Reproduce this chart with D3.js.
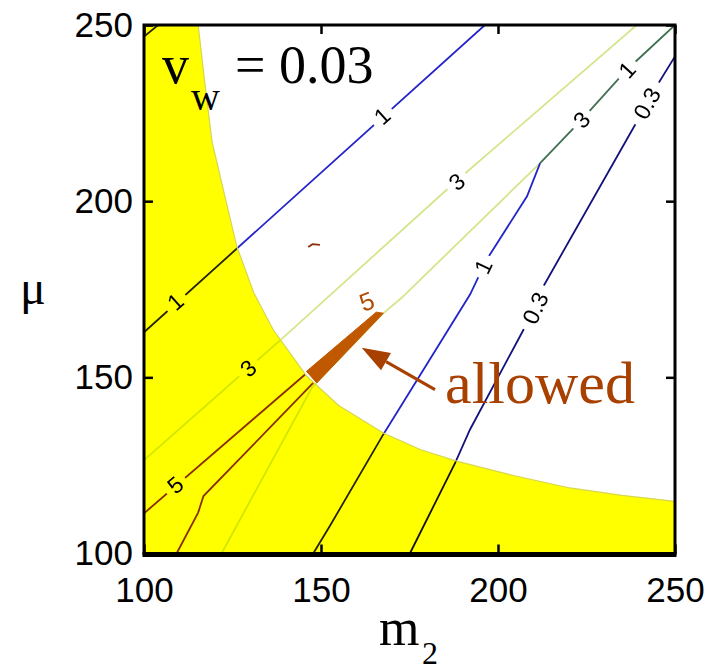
<!DOCTYPE html>
<html>
<head>
<meta charset="utf-8">
<script src="https://cdn.jsdelivr.net/npm/d3@7"></script>
<style>
  body { margin: 0; background: #fff; }
  text { font-family: 'Liberation Sans', Arial, sans-serif; }
  .serif { font-family: 'Liberation Serif', 'Times New Roman', serif; }
</style>
</head>
<body>
<svg id="chart" width="708" height="670"></svg>
<script>
const ticks = [100, 150, 200, 250]

// lower edge of the allowed region (m2, mu)
const boundary = [
  [115.3, 250], [117, 235], [119.2, 217], [122, 205], [126.2, 187.2], [131, 174],
  [136.5, 163.5], [146, 150.3], [155, 142], [167.6, 134.2], [178, 129.5],
  [188.3, 126.2], [205, 122], [220.3, 118.6], [235, 116.5], [250, 114.8]
]

// contour polylines, one entry per drawn piece
const contourLevels = ['1', '1', '3', '3', '1', '1', '0.3', '5', '5', '5']
const contourColors = ['#2424c8', '#2424c8', '#d2e68c', '#d2e68c', '#2424c8', '#3e7050', '#12127e', '#8a2e08', '#8a2e08', '#8a2e08']
const contourPoints = [
  [[100, 162.8], [196.3, 250]],
  [[100, 246.7], [104, 250]],
  [[100, 126.5], [139, 161], [188, 205.5], [239.2, 250]],
  [[121.9, 100], [147.5, 147.2], [167.5, 168.1], [172.7, 172.5], [211.9, 210.8]],
  [[147.8, 100], [152.5, 107.8], [167.6, 133.8], [192.1, 173.5], [196.8, 183.4], [208.2, 201.4], [211.9, 210.8]],
  [[211.9, 210.8], [223.6, 223.1], [236.4, 237.3], [250, 250]],
  [[175.1, 100], [187.9, 125.7], [192.1, 135.2], [207.2, 163.5], [212.8, 175.8], [240.1, 224.1], [244.8, 232.6], [250, 241.1]],
  [[100, 111.4], [145.5, 150.8]],
  [[109.2, 100], [115.3, 111.6], [116.8, 116.3], [147.8, 148.4]],
  [[146.4, 187.0], [147.6, 187.8], [149.7, 187.6]]
]

// inline contour labels
const labelTexts = ['1', '1', '3', '3', '1', '3', '1', '0.3', '0.3', '5']
const labelAt = [
  [108.8, 171.5], [167.2, 224.2], [129.4, 152.6], [188.3, 205.6], [195.8, 181.5],
  [223.6, 223.1], [236.4, 237.3], [210.5, 169.7], [242, 227.8], [108.8, 119.5]
]

// allowed region (value > 5 outside the excluded band)
const allowed = [[145.9, 151.7], [165.6, 168.5], [167.6, 168.2], [148.8, 148.4]]
const arrowFrom = [182.2, 146.5]
const arrowTo = [161.5, 158.4]

const svg = d3.select('#chart')
const x = d3.scaleLinear().domain([100, 250]).range([144, 675])
const y = d3.scaleLinear().domain([100, 250]).range([553.5, 25])
const line = d3.line().x(d => x(d[0])).y(d => y(d[1]))

const defs = svg.append('defs')
defs.append('clipPath').attr('id', 'plot')
  .append('rect').attr('x', x(100)).attr('y', y(250))
  .attr('width', x(250) - x(100)).attr('height', y(100) - y(250))

// find local direction of the nearest contour for each label
function labelAngle (p) {
  const px = [x(p[0]), y(p[1])]
  let best = Infinity
  let ang = 0
  contourPoints.forEach(pts => {
    for (let i = 0; i < pts.length - 1; i++) {
      const a = [x(pts[i][0]), y(pts[i][1])]
      const b = [x(pts[i + 1][0]), y(pts[i + 1][1])]
      const dx = b[0] - a[0]
      const dy = b[1] - a[1]
      const t = Math.max(0, Math.min(1, ((px[0] - a[0]) * dx + (px[1] - a[1]) * dy) / (dx * dx + dy * dy)))
      const d = Math.hypot(a[0] + t * dx - px[0], a[1] + t * dy - px[1])
      if (d < best) {
        best = d
        ang = Math.atan2(dy, dx) * 180 / Math.PI
      }
    }
  })
  if (ang > 90) ang -= 180
  if (ang < -90) ang += 180
  return ang
}

const labels = labelTexts.map((t, i) => ({ text: t, at: labelAt[i], angle: labelAngle(labelAt[i]) }))

// mask that cuts gaps into the lines where labels sit
const mask = defs.append('mask').attr('id', 'gaps').attr('maskUnits', 'userSpaceOnUse')
  .attr('x', 0).attr('y', 0).attr('width', 708).attr('height', 670)
mask.append('rect').attr('width', 708).attr('height', 670).attr('fill', '#fff')
labels.forEach(l => {
  const w = l.text.length * 12 + 12
  mask.append('rect')
    .attr('x', -w / 2).attr('y', -10).attr('width', w).attr('height', 20)
    .attr('fill', '#000')
    .attr('transform', `translate(${x(l.at[0])},${y(l.at[1])}) rotate(${l.angle})`)
})

const plot = svg.append('g').attr('clip-path', 'url(#plot)')

plot.append('g').attr('mask', 'url(#gaps)')
  .selectAll('path')
  .data(contourPoints)
  .enter()
  .append('path')
  .attr('d', line)
  .attr('fill', 'none')
  .attr('stroke', (_, i) => contourColors[i])
  .attr('stroke-width', 1.8)

// excluded region, multiplied over the lines so they darken inside it
const excluded = [[100, 100], [100, 250]].concat(boundary, [[250, 100]])
plot.append('path')
  .attr('d', line(excluded) + 'Z')
  .attr('fill', '#ffff00')
  .style('mix-blend-mode', 'multiply')

plot.append('path')
  .attr('d', line(boundary))
  .attr('fill', 'none')
  .attr('stroke', '#d6d650')
  .attr('stroke-width', 1.2)

plot.append('path')
  .attr('d', line(allowed) + 'Z')
  .attr('fill', '#c05800')
  .attr('stroke', '#c05800')
  .attr('stroke-width', 1)
  .attr('stroke-linejoin', 'round')

plot.selectAll('.clabel')
  .data(labels)
  .enter()
  .append('text')
  .attr('class', 'clabel')
  .attr('font-size', 23)
  .attr('text-anchor', 'middle')
  .attr('dy', '0.36em')
  .attr('transform', d => `translate(${x(d.at[0])},${y(d.at[1])}) rotate(${d.angle})`)
  .text(d => d.text)

plot.append('text')
  .attr('font-size', 25)
  .attr('fill', '#b04a00')
  .attr('text-anchor', 'middle')
  .attr('dy', '0.36em')
  .attr('transform', `translate(${x(162.9)},${y(171.6)}) rotate(-20)`)
  .text('5')

// arrow to the allowed wedge
const ax0 = x(arrowFrom[0])
const ay0 = y(arrowFrom[1])
const ax1 = x(arrowTo[0])
const ay1 = y(arrowTo[1])
const ang = Math.atan2(ay1 - ay0, ax1 - ax0)
const headLen = 28
const headHalf = 10
const bx = ax1 - headLen * Math.cos(ang)
const by = ay1 - headLen * Math.sin(ang)
svg.append('line')
  .attr('x1', ax0).attr('y1', ay0).attr('x2', bx).attr('y2', by)
  .attr('stroke', '#a84000').attr('stroke-width', 3)
svg.append('path')
  .attr('d', `M${ax1},${ay1}L${bx + headHalf * Math.sin(ang)},${by - headHalf * Math.cos(ang)}L${bx - headHalf * Math.sin(ang)},${by + headHalf * Math.cos(ang)}Z`)
  .attr('fill', '#a84000')

svg.append('text').attr('class', 'serif')
  .attr('x', 445).attr('y', 403)
  .attr('font-size', 60).attr('fill', '#a84000')
  .text('allowed')

// axes: ticks point inwards, labels on left and bottom only
svg.append('g')
  .attr('transform', `translate(0,${y(100)})`)
  .call(d3.axisBottom(x).tickValues(ticks).tickSize(-9).tickPadding(24))
svg.append('g')
  .attr('transform', `translate(${x(100)},0)`)
  .call(d3.axisLeft(y).tickValues(ticks).tickSize(-9).tickPadding(11))
svg.append('g')
  .attr('transform', `translate(0,${y(250)})`)
  .call(d3.axisTop(x).tickValues(ticks).tickSize(-9).tickFormat(''))
svg.append('g')
  .attr('transform', `translate(${x(250)},0)`)
  .call(d3.axisRight(y).tickValues(ticks).tickSize(-9).tickFormat(''))

svg.selectAll('.domain').remove()
svg.selectAll('.tick line').attr('stroke', '#000').attr('stroke-width', 2.5)
svg.selectAll('.tick text')
  .attr('font-size', 35)
  .attr('font-family', "'Liberation Sans', Arial, sans-serif")
  .attr('fill', '#000')

svg.append('rect')
  .attr('x', x(100)).attr('y', y(250))
  .attr('width', x(250) - x(100)).attr('height', y(100) - y(250))
  .attr('fill', 'none').attr('stroke', '#000').attr('stroke-width', 3)
svg.append('line')
  .attr('x1', x(100) - 1.5).attr('x2', x(250) + 1.5)
  .attr('y1', y(100) + 1).attr('y2', y(100) + 1)
  .attr('stroke', '#000').attr('stroke-width', 5)

// titles
svg.append('text').attr('class', 'serif').attr('x', 162).attr('y', 83).attr('font-size', 54).text('v')
svg.append('text').attr('class', 'serif').attr('x', 191).attr('y', 110).attr('font-size', 40).text('w')
svg.append('text').attr('class', 'serif').attr('x', 235).attr('y', 83).attr('font-size', 54).text('= 0.03')
svg.append('text').attr('class', 'serif').attr('x', 20).attr('y', 304).attr('font-size', 48).text('μ')
svg.append('text').attr('class', 'serif').attr('x', 379).attr('y', 645).attr('font-size', 52).text('m')
svg.append('text').attr('class', 'serif').attr('x', 422).attr('y', 664).attr('font-size', 32).text('2')
</script>
</body>
</html>
